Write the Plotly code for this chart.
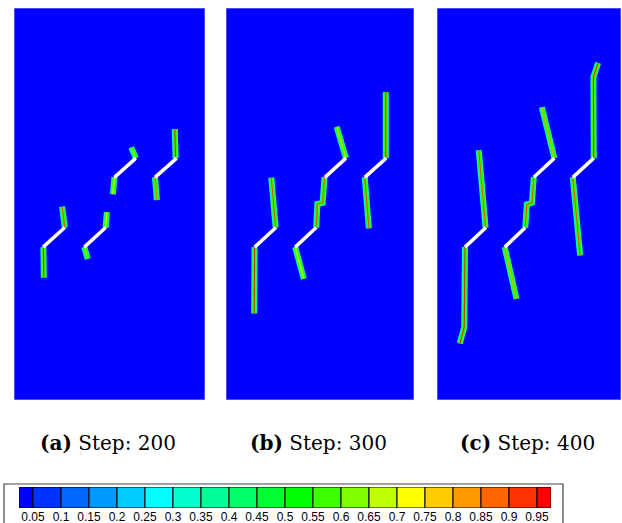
import plotly.graph_objects as go

FIG_W, FIG_H = 622, 523

# Specimen size in mm
SPEC_W, SPEC_H = 50.0, 100.0

# Pre-existing flaws (straight segments, mm)
flaw_x0 = [7.6, 18.4, 26.3, 36.9]
flaw_y0 = [39.0, 39.0, 56.8, 56.8]
flaw_x1 = [13.3, 24.0, 31.9, 42.6]
flaw_y1 = [44.0, 44.0, 61.7, 61.7]

# Load steps shown in the three panels
steps = [200, 300, 400]
tags = ["a", "b", "c"]

# Crack paths per step: (x list, y list, peak damage along the path)
cracks_200 = [
    ([13.3, 12.6], [44.0, 49.3], 0.90),
    ([7.7, 7.8], [39.0, 31.2], 0.97),
    ([24.0, 24.3], [44.0, 47.9], 0.70),
    ([18.4, 19.3], [39.0, 36.0], 0.60),
    ([31.9, 30.7], [61.7, 64.4], 0.60),
    ([26.3, 25.9], [56.8, 52.5], 0.70),
    ([42.3, 42.1], [61.7, 69.1], 0.97),
    ([36.9, 37.4], [56.8, 51.0], 0.85),
]
cracks_300 = [
    ([13.2, 12.05], [44.0, 56.7], 0.90),
    ([7.6, 7.5], [39.0, 22.1], 0.97),
    ([24.0, 24.3, 25.7, 26.2], [44.0, 50.0, 50.3, 56.8], 0.90),
    ([18.4, 20.7], [39.0, 30.9], 0.70),
    ([31.9, 29.45], [61.7, 69.7], 0.75),
    ([42.5, 42.5], [61.7, 78.5], 0.97),
    ([36.9, 38.0], [56.8, 43.8], 0.90),
]
cracks_400 = [
    ([13.2, 11.35], [44.0, 63.7], 0.90),
    ([7.6, 7.4, 6.2], [39.0, 18.6, 14.4], 0.97),
    ([24.0, 24.4, 25.8, 26.3], [44.0, 49.9, 50.3, 56.8], 0.90),
    ([18.4, 21.6], [39.0, 25.8], 0.80),
    ([31.9, 28.5], [61.7, 74.7], 0.80),
    ([42.6, 42.5, 43.8], [61.7, 82.4, 86.0], 0.97),
    ([36.9, 38.9], [56.8, 36.9], 0.90),
]
cracks_by_step = [cracks_200, cracks_300, cracks_400]

# Contour levels of the damage legend and the band colours between them
levels = [0.05, 0.10, 0.15, 0.20, 0.25, 0.30, 0.35, 0.40, 0.45, 0.50,
          0.55, 0.60, 0.65, 0.70, 0.75, 0.80, 0.85, 0.90, 0.95]
level_labels = ["0.05", "0.1", "0.15", "0.2", "0.25", "0.3", "0.35", "0.4", "0.45", "0.5",
                "0.55", "0.6", "0.65", "0.7", "0.75", "0.8", "0.85", "0.9", "0.95"]
band_colors = [
    "#0000ff", "#0033ff", "#0066ff", "#0099ff", "#00ccff",
    "#00ffff", "#00ffcc", "#00ff99", "#00ff66", "#00ff33",
    "#00ff00", "#40ff00", "#80ff00", "#bfff00", "#ffff00",
    "#ffcc00", "#ff9900", "#ff6600", "#ff3300", "#ff0000",
]


def damage_color(d):
    idx = sum(1 for lv in levels if d >= lv)
    return band_colors[idx]


def px_x(p):
    return p / FIG_W


def px_y(p):
    return 1 - p / FIG_H


# Panel placement in pixels (left, right) and shared (top, bottom)
panel_lr = [(14, 205), (226, 414), (437, 621)]
panel_top, panel_bottom = 8, 400

fig = go.Figure()
layout_axes = {}
shapes = []
annotations = []

for i, (step, tag, cracks) in enumerate(zip(steps, tags, cracks_by_step)):
    n = i + 1
    xa = "x" if n == 1 else f"x{n}"
    ya = "y" if n == 1 else f"y{n}"
    xkey = "xaxis" if n == 1 else f"xaxis{n}"
    ykey = "yaxis" if n == 1 else f"yaxis{n}"
    l, r = panel_lr[i]
    layout_axes[xkey] = dict(domain=[px_x(l), px_x(r)], range=[0, SPEC_W], visible=False,
                             fixedrange=True, anchor=ya)
    layout_axes[ykey] = dict(domain=[px_y(panel_bottom), px_y(panel_top)], range=[0, SPEC_H],
                             visible=False, fixedrange=True, anchor=xa)

    # undamaged specimen background
    shapes.append(dict(type="rect", xref=xa, yref=ya, x0=0, x1=SPEC_W, y0=0, y1=SPEC_H,
                       fillcolor=band_colors[0], line=dict(color="#9a9aff", width=1),
                       layer="below"))

    # crack bands: outer fringe, body, then the fully damaged core
    hx, hy = [], []
    for xs, ys, _ in cracks:
        hx += xs + [None]
        hy += ys + [None]
    fig.add_trace(go.Scatter(x=hx, y=hy, mode="lines", xaxis=xa, yaxis=ya,
                             line=dict(color="#00ffaa", width=6), hoverinfo="skip"))
    fig.add_trace(go.Scatter(x=hx, y=hy, mode="lines", xaxis=xa, yaxis=ya,
                             line=dict(color="#33ff00", width=3.8), hoverinfo="skip"))
    for xs, ys, dmax in cracks:
        fig.add_trace(go.Scatter(x=xs, y=ys, mode="lines", xaxis=xa, yaxis=ya,
                                 line=dict(color=damage_color(dmax), width=1.1),
                                 opacity=0.8, hoverinfo="skip"))

    # pre-existing flaws
    fx, fy = [], []
    for a, b, c, d in zip(flaw_x0, flaw_y0, flaw_x1, flaw_y1):
        fx += [a, c, None]
        fy += [b, d, None]
    fig.add_trace(go.Scatter(x=fx, y=fy, mode="lines", xaxis=xa, yaxis=ya,
                             line=dict(color="white", width=3.5), hoverinfo="skip"))

    annotations.append(dict(
        text=f"<b>({tag})</b> Step: {step}", xref="paper", yref="paper",
        x=px_x((l + r) / 2 - 2), y=px_y(443), xanchor="center", yanchor="middle",
        showarrow=False, font=dict(family="DejaVu Serif", size=20, color="black")))

# Damage legend: banded colour bar
edges = [0.025] + levels + [0.975]
centers = [(a + b) / 2 for a, b in zip(edges[:-1], edges[1:])]
widths = [b - a for a, b in zip(edges[:-1], edges[1:])]
fig.add_trace(go.Bar(x=centers, y=[1] * len(centers), width=widths, base=0,
                     marker=dict(color=band_colors, line=dict(color="black", width=1)),
                     xaxis="x4", yaxis="y4", hoverinfo="skip"))
layout_axes["xaxis4"] = dict(domain=[px_x(19), px_x(551)], range=[0.025, 0.975],
                             tickvals=levels, ticktext=level_labels, ticks="",
                             showgrid=False, zeroline=False, showline=False, fixedrange=True,
                             tickfont=dict(family="Liberation Sans", size=12, color="black"),
                             anchor="y4")
layout_axes["yaxis4"] = dict(domain=[px_y(508), px_y(487)], range=[0, 1], visible=False,
                             fixedrange=True, anchor="x4")
shapes.append(dict(type="rect", xref="paper", yref="paper", x0=px_x(4), x1=px_x(563),
                   y0=-0.05, y1=px_y(484), line=dict(color="#444444", width=1.2),
                   fillcolor="rgba(0,0,0,0)", layer="below"))

fig.update_layout(
    width=FIG_W, height=FIG_H, margin=dict(l=0, r=0, t=0, b=0),
    paper_bgcolor="white", plot_bgcolor="white", showlegend=False,
    shapes=shapes, annotations=annotations, **layout_axes,
)

fig.write_html("out.html")
